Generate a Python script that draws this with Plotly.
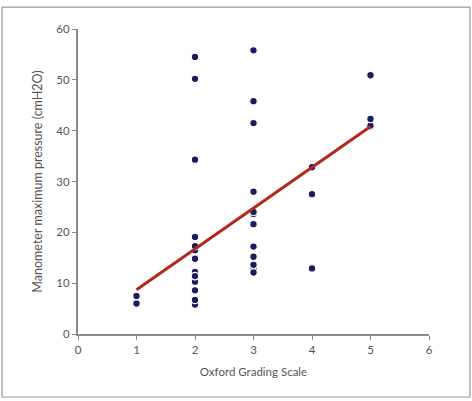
import plotly.graph_objects as go

grade_1 = [1, 1]
pressure_1 = [6.0, 7.5]
grade_2 = [2] * 13
pressure_2 = [5.8, 10.3, 12.2, 16.5, 6.7, 8.6, 11.4, 14.8, 17.3, 19.1, 34.3, 50.2, 54.5]
grade_3 = [3] * 12
pressure_3 = [13.0, 13.6, 23.6, 12.1, 15.2, 17.2, 21.6, 24.0, 28.0, 41.5, 45.8, 55.8]
grade_4 = [4, 4, 4]
pressure_4 = [12.9, 27.5, 32.8]
grade_5 = [5, 5, 5, 5]
pressure_5 = [40.7, 41.0, 42.3, 50.9]

fit_x = [1, 5]
fit_y = [8.7, 40.8]

xs = grade_1 + grade_2 + grade_3 + grade_4 + grade_5
ys = pressure_1 + pressure_2 + pressure_3 + pressure_4 + pressure_5

FONT = "Lato, Open Sans, sans-serif"

fig = go.Figure()
fig.add_trace(go.Scatter(
    x=xs, y=ys, mode="markers",
    marker=dict(size=7.5, color="#1b1b5e", line=dict(color="white", width=1.2)),
    showlegend=False, hoverinfo="skip"))
fig.add_trace(go.Scatter(
    x=fit_x, y=fit_y, mode="lines",
    line=dict(color="#b3281c", width=3),
    showlegend=False, hoverinfo="skip"))

axis_common = dict(
    showgrid=False, zeroline=False, showline=True, linecolor="#8a8a8a", linewidth=2,
    ticks="outside", ticklen=4, tickwidth=1, tickcolor="#8a8a8a",
    tickfont=dict(family=FONT, size=11.5, color="#555555"),
)

fig.update_layout(
    width=472, height=401,
    margin=dict(l=78, r=43, t=29, b=67),
    paper_bgcolor="white", plot_bgcolor="white",
    xaxis=dict(range=[0, 6], tickvals=[0, 1, 2, 3, 4, 5, 6],
               title=dict(text="Oxford Grading Scale", standoff=13,
                          font=dict(family=FONT, size=11.5, color="#555555")),
               **axis_common),
    yaxis=dict(range=[0, 60], tickvals=[0, 10, 20, 30, 40, 50, 60],
               title=dict(text="Manometer maximum pressure (cmH2O)", standoff=11,
                          font=dict(family=FONT, size=12.5, color="#555555")),
               **axis_common),
    shapes=[dict(type="rect", xref="paper", yref="paper",
                 x0=-0.2165, x1=1.1168, y0=-0.2066, y1=1.072,
                 line=dict(color="#9a9a9a", width=1.2), layer="below")],
)

fig.write_html("out.html")
